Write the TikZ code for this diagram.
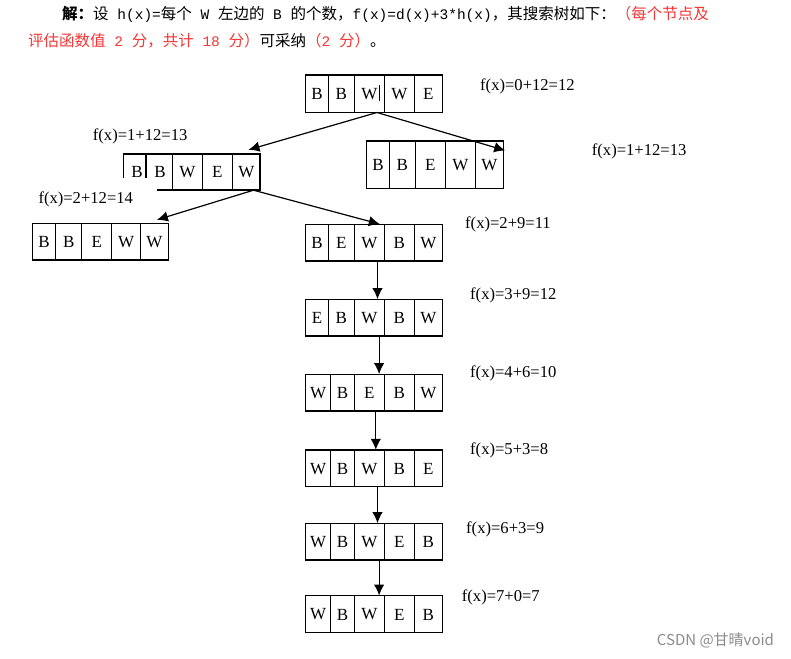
\documentclass[tikz,border=0pt]{standalone}
\usepackage{fontspec}
\setmainfont{Liberation Serif}
\newfontfamily\cjk{Noto Sans CJK SC}
\newfontfamily\monof{Liberation Mono}
\usetikzlibrary{arrows.meta,fit,calc}
\definecolor{hdred}{RGB}{245,55,55}
\definecolor{wmgray}{RGB}{140,140,140}
\tikzset{
  cell/.style={draw=black,line width=1.2pt},
  letter/.style={font=\fontsize{17}{17}\selectfont, inner sep=0pt},
  flabel/.style={font=\fontsize{16.6}{16.6}\selectfont, anchor=west, inner sep=0pt},
  edge/.style={line width=1.2pt, -{Latex[length=11pt,width=10.5pt]}},
  boxfit/.style={inner sep=0pt, draw=none},
  headtext/.style={anchor=west, inner sep=0pt, font=\cjk\fontsize{15.5}{16}\selectfont},
}
\newcommand\lt[1]{{\monof\fontsize{14.5}{16}\selectfont#1}}
\newcommand\stbox[6]{%
  \node[boxfit, fit={(#2,#4) (#3,#5)}] (#1) {};
  \foreach \a/\b/\l/\i in {#6} {
    \draw[cell] (\a,#4) rectangle (\b,#5);
    \node[letter] (#1-\i) at ({(\a+\b)/2},{(#4+#5)/2+0.5}) {\l};
  }
}
\begin{document}
\begin{tikzpicture}[x=1pt,y=-1pt]
\useasboundingbox (0,0) rectangle (791,658);
\fill[white] (0,0) rectangle (791,658);

% header
\node[headtext] (h1) at (62,14) {{\bfseries 解：}设\lt{ h(x)=}每个\lt{ W }左边的\lt{ B }的个数，\lt{f(x)=d(x)+3*h(x)}，其搜索树如下：\textcolor{hdred}{（每个节点及}};
\node[headtext] (h2) at (28,41) {\textcolor{hdred}{评估函数值\lt{ 2 }分，共计\lt{ 18 }分）}可采纳\textcolor{hdred}{（\lt{2 }分）}。};

% root
\stbox{s0}{305.7}{442.3}{75}{112.3}{305.7/328.3/B/1, 328.3/354.3/B/2, 354.3/384.3/W/3, 384.3/414.3/W/4, 414.3/442.3/E/5}
\draw[line width=1pt] (379.3,85) -- (379.3,100.7);
\node[flabel] (l0) at (480,86.7) {f(x)=0+12=12};

% right child
\stbox{s2}{366.7}{503.3}{141}{188.3}{366.7/389.3/B/1, 389.3/415.3/B/2, 415.3/445.3/E/3, 445.3/475.3/W/4, 475.3/503.3/W/5}
\node[flabel] (l2) at (591.7,151.7) {f(x)=1+12=13};

% left child (partly cut)
\node[boxfit, fit={(123.3,154) (260,190)}] (s1) {};
\draw[cell] (123.3,178.3) -- (123.3,154) -- (260,154) -- (260,190) -- (156.7,190);
\draw[cell] (146,154) -- (146,178.3);
\draw[cell] (172.3,154) -- (172.3,190);
\draw[cell] (202.3,154) -- (202.3,190);
\draw[cell] (232.3,154) -- (232.3,190);
\node[letter] (s1-1) at (137,172) {B};
\node[letter] (s1-2) at (160,172) {B};
\node[letter] (s1-3) at (187.5,172) {W};
\node[letter] (s1-4) at (217.3,172) {E};
\node[letter] (s1-5) at (246.3,172) {W};
\node[flabel] (l1) at (92.7,136) {f(x)=1+12=13};

% left-left
\stbox{s3}{32.3}{168.3}{223.3}{260}{32.3/55.7/B/1, 55.7/81.7/B/2, 81.7/111.7/E/3, 111.7/140.7/W/4, 140.7/168.3/W/5}
\node[flabel] (l3) at (38.3,199) {f(x)=2+12=14};

% chain
\stbox{s4}{305.7}{442.3}{224.3}{261}{305.7/328.3/B/1, 328.3/354.3/E/2, 354.3/384.3/W/3, 384.3/414.3/B/4, 414.3/442.3/W/5}
\node[flabel] (l4) at (465,224) {f(x)=2+9=11};
\stbox{s5}{305.7}{442.3}{299.3}{336}{305.7/328.3/E/1, 328.3/354.3/B/2, 354.3/384.3/W/3, 384.3/414.3/B/4, 414.3/442.3/W/5}
\node[flabel] (l5) at (470,295) {f(x)=3+9=12};
\stbox{s6}{305.7}{442.3}{374.3}{411}{305.7/330.7/W/1, 330.7/354.3/B/2, 354.3/384.3/E/3, 384.3/414.3/B/4, 414.3/442.3/W/5}
\node[flabel] (l6) at (470,373.3) {f(x)=4+6=10};
\stbox{s7}{305.7}{442.3}{450}{486.7}{305.7/330.7/W/1, 330.7/354.3/B/2, 354.3/384.3/W/3, 384.3/414.3/B/4, 414.3/442.3/E/5}
\node[flabel] (l7) at (470,450) {f(x)=5+3=8};
\stbox{s8}{305.7}{442.3}{523.3}{560}{305.7/330.7/W/1, 330.7/354.3/B/2, 354.3/384.3/W/3, 384.3/414.3/E/4, 414.3/442.3/B/5}
\node[flabel] (l8) at (466,529.3) {f(x)=6+3=9};
\stbox{s9}{305.7}{442.3}{595.7}{632.3}{305.7/330.7/W/1, 330.7/354.3/B/2, 354.3/384.3/W/3, 384.3/414.3/E/4, 414.3/442.3/B/5}
\node[flabel] (l9) at (461.7,597.3) {f(x)=7+0=7};

% connectors
\draw[edge] ($(s0.south west)+(71.5,0)$) -- ($(s1.north east)+(-11.7,-4)$);
\draw[edge] ($(s0.south west)+(71.5,0)$) -- ($(s2.north east)+(1.7,9.7)$);
\draw[edge] ($(s1.south east)+(-6.7,0)$) -- ($(s3.north east)+(-11.6,-3.3)$);
\draw[edge] ($(s1.south east)+(-6.7,0)$) -- ($(s4.north west)+(74.3,0)$);
\draw[edge] ($(s4.south west)+(72,0)$) -- ($(s5.north west)+(72,0)$);
\draw[edge] ($(s5.south west)+(73.6,0)$) -- ($(s6.north west)+(73.6,0)$);
\draw[edge] ($(s6.south west)+(70.3,0)$) -- ($(s7.north west)+(70.3,0)$);
\draw[edge] ($(s7.south west)+(72,0)$) -- ($(s8.north west)+(72,0)$);
\draw[edge] ($(s8.south west)+(73.6,0)$) -- ($(s9.north west)+(73.6,0)$);

% watermark
\node[anchor=west, inner sep=0pt, font=\cjk\fontsize{15}{15}\selectfont, text=wmgray] (wm) at (656.7,640.7) {CSDN @甘晴void};
\end{tikzpicture}
\end{document}
